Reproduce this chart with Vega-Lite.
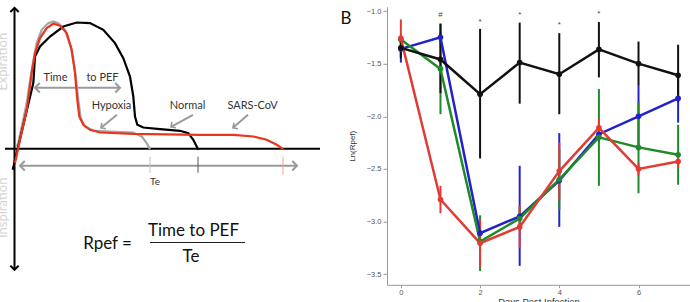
{
  "$schema": "https://vega.github.io/schema/vega-lite/v6.json",
  "padding": {"left": 0, "top": 2.8, "right": 0, "bottom": 0},
  "bounds": "flush",
  "spacing": 27,
  "resolve": {"scale": {"color": "independent"}},
  "config": {"view": {"stroke": null}, "font": "Lato"},
  "datasets": {
    "curves": [
      {"curve": "hypoxia", "i": 1, "x": 16.7, "y": 2.3},
      {"curve": "hypoxia", "i": 2, "x": 18.3, "y": 5.7},
      {"curve": "hypoxia", "i": 3, "x": 26.7, "y": 45.7},
      {"curve": "hypoxia", "i": 4, "x": 31.7, "y": 79},
      {"curve": "hypoxia", "i": 5, "x": 36.7, "y": 105.7},
      {"curve": "hypoxia", "i": 6, "x": 41.7, "y": 119},
      {"curve": "hypoxia", "i": 7, "x": 48.3, "y": 125.7},
      {"curve": "hypoxia", "i": 8, "x": 53.3, "y": 127.3},
      {"curve": "hypoxia", "i": 9, "x": 58.3, "y": 125.7},
      {"curve": "hypoxia", "i": 10, "x": 65, "y": 119},
      {"curve": "hypoxia", "i": 11, "x": 70.7, "y": 102.3},
      {"curve": "hypoxia", "i": 12, "x": 75, "y": 79},
      {"curve": "hypoxia", "i": 13, "x": 78.3, "y": 49},
      {"curve": "hypoxia", "i": 14, "x": 80.7, "y": 30.7},
      {"curve": "hypoxia", "i": 15, "x": 85, "y": 22.3},
      {"curve": "hypoxia", "i": 16, "x": 93.3, "y": 18.3},
      {"curve": "hypoxia", "i": 17, "x": 110, "y": 17.3},
      {"curve": "hypoxia", "i": 18, "x": 133.3, "y": 16.3},
      {"curve": "hypoxia", "i": 19, "x": 141.7, "y": 12.3},
      {"curve": "hypoxia", "i": 20, "x": 146.7, "y": 5.7},
      {"curve": "hypoxia", "i": 21, "x": 150, "y": -0.3},
      {"curve": "normal", "i": 1, "x": 12.7, "y": -21},
      {"curve": "normal", "i": 2, "x": 33.3, "y": 65.7},
      {"curve": "normal", "i": 3, "x": 35, "y": 92.3},
      {"curve": "normal", "i": 4, "x": 40, "y": 102.3},
      {"curve": "normal", "i": 5, "x": 50, "y": 112.3},
      {"curve": "normal", "i": 6, "x": 63.3, "y": 122.3},
      {"curve": "normal", "i": 7, "x": 76.7, "y": 126.3},
      {"curve": "normal", "i": 8, "x": 90, "y": 125.7},
      {"curve": "normal", "i": 9, "x": 103.3, "y": 119},
      {"curve": "normal", "i": 10, "x": 115, "y": 105.7},
      {"curve": "normal", "i": 11, "x": 123.3, "y": 90.7},
      {"curve": "normal", "i": 12, "x": 130, "y": 72.3},
      {"curve": "normal", "i": 13, "x": 133.3, "y": 52.3},
      {"curve": "normal", "i": 14, "x": 135, "y": 32.3},
      {"curve": "normal", "i": 15, "x": 137.3, "y": 24},
      {"curve": "normal", "i": 16, "x": 143.3, "y": 21.3},
      {"curve": "normal", "i": 17, "x": 160, "y": 19.7},
      {"curve": "normal", "i": 18, "x": 180, "y": 18},
      {"curve": "normal", "i": 19, "x": 188.3, "y": 15.7},
      {"curve": "normal", "i": 20, "x": 193.3, "y": 9},
      {"curve": "normal", "i": 21, "x": 198.3, "y": -1},
      {"curve": "sars", "i": 1, "x": 15, "y": -14.3},
      {"curve": "sars", "i": 2, "x": 20, "y": 9},
      {"curve": "sars", "i": 3, "x": 26.7, "y": 39},
      {"curve": "sars", "i": 4, "x": 31.7, "y": 75.7},
      {"curve": "sars", "i": 5, "x": 35, "y": 95.7},
      {"curve": "sars", "i": 6, "x": 40, "y": 110.7},
      {"curve": "sars", "i": 7, "x": 46.7, "y": 120.7},
      {"curve": "sars", "i": 8, "x": 53.3, "y": 125},
      {"curve": "sars", "i": 9, "x": 60, "y": 123},
      {"curve": "sars", "i": 10, "x": 66.7, "y": 115.7},
      {"curve": "sars", "i": 11, "x": 71.7, "y": 99},
      {"curve": "sars", "i": 12, "x": 75, "y": 75.7},
      {"curve": "sars", "i": 13, "x": 77.3, "y": 49},
      {"curve": "sars", "i": 14, "x": 79.3, "y": 32.3},
      {"curve": "sars", "i": 15, "x": 83.3, "y": 24},
      {"curve": "sars", "i": 16, "x": 90, "y": 19},
      {"curve": "sars", "i": 17, "x": 100, "y": 16.3},
      {"curve": "sars", "i": 18, "x": 133.3, "y": 15},
      {"curve": "sars", "i": 19, "x": 200, "y": 14},
      {"curve": "sars", "i": 20, "x": 233.3, "y": 14},
      {"curve": "sars", "i": 21, "x": 253.3, "y": 12.3},
      {"curve": "sars", "i": 22, "x": 266.7, "y": 9},
      {"curve": "sars", "i": 23, "x": 276.7, "y": 4},
      {"curve": "sars", "i": 24, "x": 283.3, "y": -0.3}
    ],
    "blackLines": [
      {"x": 14.5, "y": 141, "x2": 14.5, "y2": -121},
      {"x": 5, "y": 0, "x2": 320, "y2": 0}
    ],
    "fraction": [
      {"x": 150, "y": -93.7, "x2": 245, "y2": -93.7}
    ],
    "grayLines": [
      {"x": 35, "y": 61, "x2": 120, "y2": 61},
      {"x": 20, "y": -17, "x2": 297, "y2": -17},
      {"x": 117, "y": 34, "x2": 101, "y2": 21},
      {"x": 193, "y": 34, "x2": 171, "y2": 22},
      {"x": 248, "y": 34, "x2": 233, "y2": 21}
    ],
    "headsLeft": [
      {"x": 35, "y": 61},
      {"x": 20, "y": -17}
    ],
    "headsRight": [
      {"x": 120, "y": 61},
      {"x": 297, "y": -17}
    ],
    "headsDiag": [
      {"x": 101, "y": 21},
      {"x": 171, "y": 22},
      {"x": 233, "y": 21}
    ],
    "headsUp": [{"x": 14.5, "y": 141}],
    "headsDown": [{"x": 14.5, "y": -121}],
    "teTicks": [
      {"curve": "hypoxia", "x": 150, "y": -8, "y2": -24},
      {"curve": "normal", "x": 198, "y": -8, "y2": -24},
      {"curve": "sars", "x": 283, "y": -8, "y2": -26}
    ],
    "labels": [
      {"x": 55.5, "y": 70.5, "label": "Time"},
      {"x": 102.5, "y": 70.5, "label": "to PEF"},
      {"x": 111.5, "y": 43, "label": "Hypoxia"},
      {"x": 187.5, "y": 43, "label": "Normal"},
      {"x": 252.5, "y": 43, "label": "SARS-CoV"}
    ],
    "smallTe": [{"x": 155, "y": -33, "label": "Te"}],
    "formula": [
      {"x": 107.5, "y": -95, "label": "Rpef ="},
      {"x": 193.5, "y": -82, "label": "Time to PEF"},
      {"x": 191, "y": -108.5, "label": "Te"},
      {"x": 346, "y": 130, "label": "B"}
    ],
    "faint": [
      {"x": 7, "y": 87, "label": "Expiration"},
      {"x": 7, "y": -59, "label": "Inspiration"}
    ],
    "rpef": [
      {"group": "blue", "day": 0, "mean": -1.36, "lo": -1.49, "hi": -1.23},
      {"group": "blue", "day": 1, "mean": -1.25, "lo": -1.3, "hi": -1.2},
      {"group": "blue", "day": 2, "mean": -3.11, "lo": -3.16, "hi": -3.06},
      {"group": "blue", "day": 3, "mean": -2.95, "lo": -3.42, "hi": -2.47},
      {"group": "blue", "day": 4, "mean": -2.61, "lo": -3.05, "hi": -2.16},
      {"group": "blue", "day": 5, "mean": -2.17, "lo": -2.25, "hi": -2.09},
      {"group": "blue", "day": 6, "mean": -2.0, "lo": -2.29, "hi": -1.71},
      {"group": "blue", "day": 7, "mean": -1.83, "lo": -2.06, "hi": -1.6},
      {"group": "green", "day": 0, "mean": -1.27, "lo": -1.32, "hi": -1.22},
      {"group": "green", "day": 1, "mean": -1.55, "lo": -1.98, "hi": -1.12},
      {"group": "green", "day": 2, "mean": -3.19, "lo": -3.47, "hi": -2.94},
      {"group": "green", "day": 3, "mean": -2.97, "lo": -3.08, "hi": -2.86},
      {"group": "green", "day": 4, "mean": -2.6, "lo": -2.89, "hi": -2.31},
      {"group": "green", "day": 5, "mean": -2.2, "lo": -2.66, "hi": -1.74},
      {"group": "green", "day": 6, "mean": -2.295, "lo": -2.73, "hi": -1.87},
      {"group": "green", "day": 7, "mean": -2.365, "lo": -2.65, "hi": -2.08},
      {"group": "red", "day": 0, "mean": -1.26, "lo": -1.44, "hi": -1.08},
      {"group": "red", "day": 1, "mean": -2.79, "lo": -2.92, "hi": -2.66},
      {"group": "red", "day": 2, "mean": -3.205, "lo": -3.43, "hi": -2.98},
      {"group": "red", "day": 3, "mean": -3.05, "lo": -3.25, "hi": -2.85},
      {"group": "red", "day": 4, "mean": -2.52, "lo": -2.79, "hi": -2.25},
      {"group": "red", "day": 5, "mean": -2.11, "lo": -2.2, "hi": -2.02},
      {"group": "red", "day": 6, "mean": -2.5, "lo": -2.56, "hi": -2.44},
      {"group": "red", "day": 7, "mean": -2.43, "lo": -2.49, "hi": -2.37},
      {"group": "black", "day": 0, "mean": -1.35, "lo": -1.45, "hi": -1.25},
      {"group": "black", "day": 1, "mean": -1.46, "lo": -1.78, "hi": -1.12},
      {"group": "black", "day": 2, "mean": -1.79, "lo": -2.4, "hi": -1.17},
      {"group": "black", "day": 3, "mean": -1.49, "lo": -1.88, "hi": -1.11},
      {"group": "black", "day": 4, "mean": -1.6, "lo": -1.98, "hi": -1.21},
      {"group": "black", "day": 5, "mean": -1.365, "lo": -1.63, "hi": -1.105},
      {"group": "black", "day": 6, "mean": -1.5, "lo": -1.71, "hi": -1.29},
      {"group": "black", "day": 7, "mean": -1.61, "lo": -1.86, "hi": -1.32}
    ],
    "sig": [
      {"day": 1, "y": -1.04, "label": "#"},
      {"day": 2, "y": -1.1, "label": "*"},
      {"day": 3, "y": -1.04, "label": "*"},
      {"day": 4, "y": -1.13, "label": "*"},
      {"day": 5, "y": -1.03, "label": "*"}
    ]
  },
  "hconcat": [
    {
      "width": 360,
      "height": 295,
      "encoding": {
        "x": {"field": "x", "type": "quantitative", "scale": {"domain": [0, 360], "nice": false, "zero": false}, "axis": null},
        "y": {"field": "y", "type": "quantitative", "scale": {"domain": [-153, 142], "nice": false, "zero": false}, "axis": null}
      },
      "layer": [
        {
          "data": {"name": "faint"},
          "mark": {"type": "text", "angle": 270, "align": "center", "baseline": "alphabetic", "fontSize": 13, "color": "#d4d4d4", "clip": true},
          "encoding": {"text": {"field": "label"}}
        },
        {
          "data": {"name": "blackLines"},
          "mark": {"type": "rule", "color": "#000000", "strokeWidth": 2},
          "encoding": {"x2": {"field": "x2"}, "y2": {"field": "y2"}}
        },
        {
          "data": {"name": "fraction"},
          "mark": {"type": "rule", "color": "#222222", "strokeWidth": 1.2},
          "encoding": {"x2": {"field": "x2"}, "y2": {"field": "y2"}}
        },
        {
          "data": {"name": "grayLines"},
          "mark": {"type": "rule", "color": "#9a9a9a", "strokeWidth": 2},
          "encoding": {"x2": {"field": "x2"}, "y2": {"field": "y2"}}
        },
        {
          "data": {"name": "headsLeft"},
          "mark": {"type": "point", "shape": "M1,-1L0,0L1,1", "filled": false, "size": 90, "color": "#9a9a9a", "strokeWidth": 2, "opacity": 1},
          "encoding": {}
        },
        {
          "data": {"name": "headsRight"},
          "mark": {"type": "point", "shape": "M-1,-1L0,0L-1,1", "filled": false, "size": 90, "color": "#9a9a9a", "strokeWidth": 2, "opacity": 1},
          "encoding": {}
        },
        {
          "data": {"name": "headsDiag"},
          "mark": {"type": "point", "shape": "M1,-1L0,0L1,1", "angle": 325, "filled": false, "size": 50, "color": "#9a9a9a", "strokeWidth": 1.6, "opacity": 1},
          "encoding": {}
        },
        {
          "data": {"name": "headsUp"},
          "mark": {"type": "point", "shape": "M-1,1L0,0L1,1", "filled": false, "size": 70, "color": "#000000", "strokeWidth": 2, "opacity": 1},
          "encoding": {}
        },
        {
          "data": {"name": "headsDown"},
          "mark": {"type": "point", "shape": "M-1,-1L0,0L1,-1", "filled": false, "size": 70, "color": "#000000", "strokeWidth": 2, "opacity": 1},
          "encoding": {}
        },
        {
          "data": {"name": "teTicks"},
          "mark": {"type": "rule", "strokeWidth": 1},
          "encoding": {
            "y2": {"field": "y2"},
            "color": {"field": "curve", "type": "nominal", "scale": {"domain": ["hypoxia", "normal", "sars"], "range": ["#c0c0c0", "#555555", "#f0a0a0"]}, "legend": null}
          }
        },
        {
          "data": {"name": "curves"},
          "mark": {"type": "line", "strokeWidth": 2.2},
          "encoding": {
            "order": {"field": "i", "type": "quantitative"},
            "stroke": {"field": "curve", "type": "nominal", "scale": {"domain": ["hypoxia", "normal", "sars"], "range": ["#a6a6a6", "#000000", "#e8361e"]}, "legend": null}
          }
        },
        {
          "data": {"name": "labels"},
          "mark": {"type": "text", "fontSize": 11, "color": "#333333", "align": "center", "baseline": "middle"},
          "encoding": {"text": {"field": "label"}}
        },
        {
          "data": {"name": "smallTe"},
          "mark": {"type": "text", "fontSize": 10, "color": "#333333", "align": "center", "baseline": "middle"},
          "encoding": {"text": {"field": "label"}}
        },
        {
          "data": {"name": "formula"},
          "mark": {"type": "text", "fontSize": 17, "color": "#111111", "align": "center", "baseline": "middle"},
          "encoding": {"text": {"field": "label"}}
        }
      ]
    },
    {
      "width": 303,
      "height": 278,
      "data": {"name": "rpef"},
      "encoding": {
        "x": {
          "field": "day", "type": "quantitative",
          "scale": {"domain": [-0.35, 7.3], "nice": false, "zero": false},
          "axis": {"values": [0, 2, 4, 6], "title": "Days Post Infection", "grid": false, "labelFontSize": 7.5, "labelFont": "Liberation Sans", "labelColor": "#555555", "tickSize": 3, "labelPadding": 1, "tickColor": "#999999", "domainColor": "#999999", "titleFont": "Liberation Sans", "titleFontSize": 9.5, "titleFontWeight": "normal", "titleColor": "#333333", "titlePadding": 0}
        }
      },
      "layer": [
        {
          "mark": {"type": "rule", "strokeWidth": 2},
          "encoding": {
            "y": {"field": "lo", "type": "quantitative", "scale": {"domain": [-3.6, -0.96], "nice": false, "zero": false}, "axis": {"values": [-3.5, -3, -2.5, -2, -1.5, -1], "format": ".1f", "title": "Ln(Rpef)", "grid": false, "labelFontSize": 7.5, "labelFont": "Liberation Sans", "labelColor": "#555555", "tickSize": 4, "labelPadding": 2, "tickColor": "#999999", "domainColor": "#999999", "titleFont": "Liberation Sans", "titleFontSize": 8, "titleFontWeight": "normal", "titleColor": "#333333", "titlePadding": 10}},
            "y2": {"field": "hi"},
            "color": {"field": "group", "type": "nominal", "scale": {"domain": ["blue", "green", "red", "black"], "range": ["#2222c8", "#1e8a2a", "#e03c36", "#111111"]}, "legend": null}
          }
        },
        {
          "mark": {"type": "line", "strokeWidth": 2.5},
          "encoding": {
            "y": {"field": "mean", "type": "quantitative"},
            "color": {"field": "group", "type": "nominal", "legend": null}
          }
        },
        {
          "mark": {"type": "point", "filled": true, "size": 32, "opacity": 1},
          "encoding": {
            "y": {"field": "mean", "type": "quantitative"},
            "color": {"field": "group", "type": "nominal", "legend": null}
          }
        },
        {
          "data": {"name": "sig"},
          "mark": {"type": "text", "fontSize": 8, "font": "Liberation Sans", "color": "#444444", "align": "center", "baseline": "middle"},
          "encoding": {
            "y": {"field": "y", "type": "quantitative"},
            "text": {"field": "label"}
          }
        }
      ]
    }
  ]
}
